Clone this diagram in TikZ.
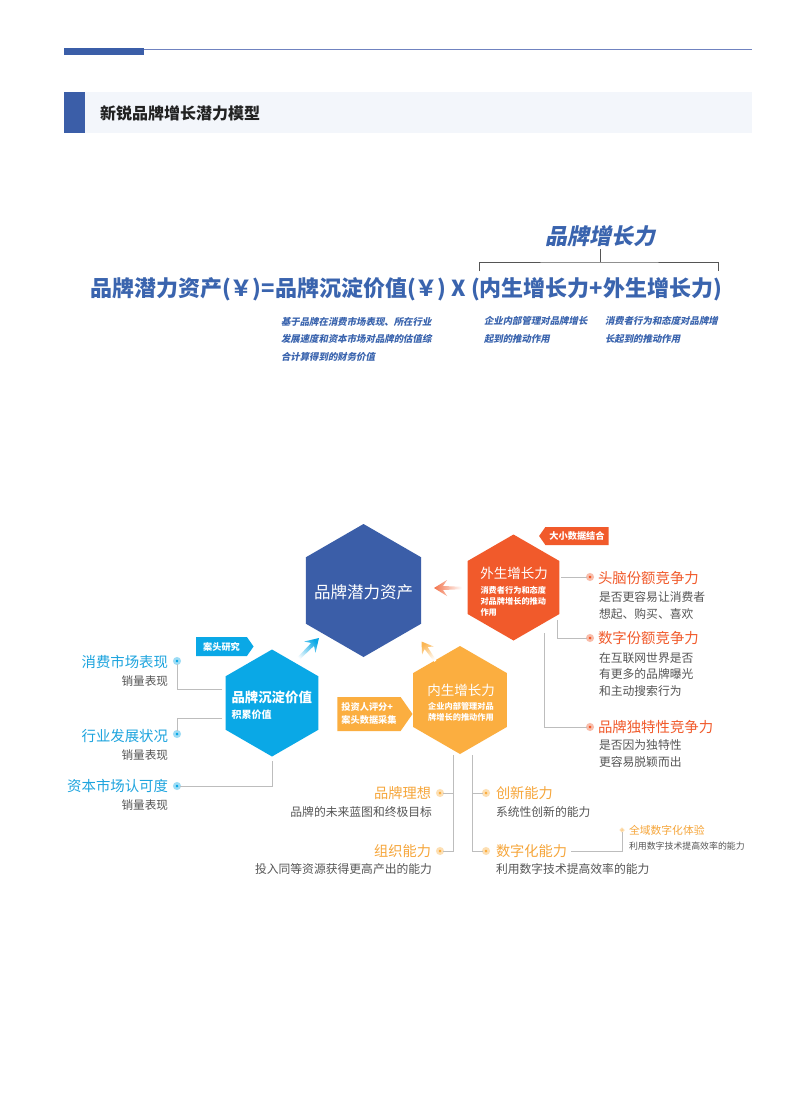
\documentclass[tikz,border=0pt]{standalone}
\usepackage{fontspec}
\setmainfont{Noto Sans CJK SC}
\newfontfamily\cjkit{Noto Sans CJK SC}[FakeSlant=0.2]
\usetikzlibrary{shapes.geometric,shapes.symbols}
\definecolor{dblue}{HTML}{3B5EA8}
\definecolor{fblue}{HTML}{3A64AE}
\definecolor{topline}{HTML}{7083C0}
\definecolor{cyanc}{HTML}{0AA8E6}
\definecolor{cyant}{HTML}{1DA4DE}
\definecolor{redo}{HTML}{F15A2B}
\definecolor{orng}{HTML}{FBAE40}
\definecolor{orngt}{HTML}{F6A63B}
\definecolor{graytext}{HTML}{555555}
\definecolor{linegray}{HTML}{BDBDBD}
\definecolor{bandbg}{HTML}{F3F6FB}
\definecolor{titletext}{HTML}{222222}
\begin{document}
\begin{tikzpicture}[x=1pt,y=-1pt,
  hex/.style={regular polygon, regular polygon sides=6, regular polygon rotate=30, inner sep=0, outer sep=0, minimum size=#1},
  txt/.style={inner sep=0, outer sep=0},
  fsz/.style={font=\fontsize{#1pt}{#1pt}\selectfont},
  conn/.style={draw=linegray, line width=0.9pt},
  dot/.style={circle, inner sep=0, outer sep=0, minimum size=5.5pt, fill=#1, draw=#1!40, line width=2.4pt},
  tagbox/.style={signal, fill=#1, text=white, inner xsep=4pt, inner ysep=2pt, signal pointer angle=110, align=left},
  desc/.style={txt, text=graytext, align=left}
]
\useasboundingbox (0,0) rectangle (805,1099);
\fill[white] (0,0) rectangle (805,1099);
% header
\draw[topline, line width=0.8pt] (64,49) -- (752,49);
\fill[dblue] (64,48.5) rectangle (144,55);
\fill[bandbg] (64,92) rectangle (752,133);
\fill[dblue] (64,92) rectangle (85,133);
\node[txt, anchor=west, fsz=16, text=titletext] (title) at (100,113) {\bfseries 新锐品牌增长潜力模型};

% formula
\node[txt, anchor=west, fsz=22, text=fblue] (formula) at (90,289) {\bfseries 品牌潜力资产(￥)=品牌沉淀价值(￥) X (内生增长力+外生增长力)};
\node[txt, fsz=22, text=fblue] (growth) at (600,236) {\cjkit\bfseries 品牌增长力};
\coordinate (brL) at (479,271);
\coordinate (brR) at (718,271);
\coordinate (brM) at (600,262);
\coordinate (brT) at (600,249);
\draw[graytext, line width=0.8pt] (brL) |- (brM) -| (brR);
\draw[graytext, line width=0.8pt] (brM) -- (brT);
\node[txt, anchor=west, text=fblue, align=left, font=\fontsize{9.4pt}{17.5pt}\selectfont] (d1) at (281,339) {\cjkit\bfseries 基于品牌在消费市场表现、所在行业\\\cjkit\bfseries 发展速度和资本市场对品牌的估值综\\\cjkit\bfseries 合计算得到的财务价值};
\node[txt, anchor=west, text=fblue, align=left, font=\fontsize{9.4pt}{17.5pt}\selectfont] (d2) at (484,330) {\cjkit\bfseries 企业内部管理对品牌增长\\\cjkit\bfseries 起到的推动作用};
\node[txt, anchor=west, text=fblue, align=left, font=\fontsize{9.4pt}{17.5pt}\selectfont] (d3) at (605,330) {\cjkit\bfseries 消费者行为和态度对品牌增\\\cjkit\bfseries 长起到的推动作用};

% hexagons
\node[hex=133, fill=dblue] (hA) at (363.5,590.5) {};
\node[hex=106, fill=redo] (hW) at (513.5,587.5) {};
\node[hex=107, fill=cyanc] (hC) at (272,703) {};
\node[hex=108, fill=orng] (hN) at (460,700) {};

\node[txt, fsz=16.5, text=white] (tA) at (363.5,592) {品牌潜力资产};
\node[txt, fsz=13.5, text=white] (tW) at (514,573) {外生增长力};
\node[txt, anchor=west, text=white, align=left, font=\fontsize{8.2pt}{11pt}\selectfont] (sW) at (480.5,601) {\bfseries 消费者行为和态度\\\bfseries 对品牌增长的推动\\\bfseries 作用};
\node[txt, anchor=west, fsz=13.4, text=white] (tC) at (231.5,697) {\bfseries 品牌沉淀价值};
\node[txt, anchor=west, fsz=10, text=white] (sC) at (231.5,715) {\bfseries 积累价值};
\node[txt, fsz=13.5, text=white] (tN) at (461,690) {内生增长力};
\node[txt, text=white, align=center, font=\fontsize{8.2pt}{11pt}\selectfont] (sN) at (461,711.5) {\bfseries 企业内部管理对品\\\bfseries 牌增长的推动作用};

% tags
\node[tagbox=redo, signal to=west, font=\fontsize{9.2pt}{11pt}\selectfont, minimum height=18pt] (tag1) at (577,536) {\bfseries 大小数据结合};
\node[tagbox=cyanc, signal to=east, font=\fontsize{9.2pt}{11pt}\selectfont, minimum height=19pt, inner xsep=7pt] (tag2) at (221.5,646.5) {\bfseries 案头研究};
\node[tagbox=orng, signal to=east, font=\fontsize{9.2pt}{13pt}\selectfont, minimum height=34pt] (tag3) at (369,714) {\bfseries 投资人评分+\\\bfseries 案头数据采集};

% feather arrows
\shade[top color=redo!85, bottom color=white, shading angle=90, shift={(434,588)}, rotate=180]
  (0,0) -- (-13,-8) -- (-9,-2) -- (-28,-1.2) -- (-28,1.2) -- (-9,2) -- (-13,8) -- cycle;
\shade[top color=cyanc, bottom color=white, shading angle=-45, shift={(319,638)}, rotate=45]
  (0,0) -- (-13,-8) -- (-9,-2) -- (-32,-1.5) -- (-32,1.5) -- (-9,2) -- (-13,8) -- cycle;
\shade[top color=orng!90, bottom color=white, shading angle=35, shift={(421.5,641.5)}, rotate=125]
  (0,0) -- (-11,-7) -- (-8,-1.8) -- (-24,-1.2) -- (-24,1.2) -- (-8,1.8) -- (-11,7) -- cycle;

% right branch (external)
\node[dot=redo] (r1) at (590,577) {};
\node[dot=redo] (r2) at (590,638) {};
\node[dot=redo] (r3) at (590,727) {};
\coordinate (cr1) at (561,577);
\coordinate (cr2) at (557,620);
\coordinate (cr3) at (544,633);
\draw[conn] (cr1) -- (r1);
\draw[conn] (cr2) |- (r2);
\draw[conn] (cr3) |- (r3);
\node[txt, anchor=west, fsz=14.4, text=redo] (rt1) at (598,578) {头脑份额竞争力};
\node[desc, anchor=west, font=\fontsize{11.8pt}{17pt}\selectfont] (rd1) at (599,605.5) {是否更容易让消费者\\想起、购买、喜欢};
\node[txt, anchor=west, fsz=14.4, text=redo] (rt2) at (598,638) {数字份额竞争力};
\node[desc, anchor=west, font=\fontsize{11.8pt}{16.5pt}\selectfont] (rd2) at (599,674.5) {在互联网世界是否\\有更多的品牌曝光\\和主动搜索行为};
\node[txt, anchor=west, fsz=14.4, text=redo] (rt3) at (598,727) {品牌独特性竞争力};
\node[desc, anchor=west, font=\fontsize{11.8pt}{17pt}\selectfont] (rd3) at (599,753.5) {是否因为独特性\\更容易脱颖而出};

% left branch (accumulated value)
\node[dot=cyanc] (l1) at (177,661) {};
\node[dot=cyanc] (l2) at (177,734) {};
\node[dot=cyanc] (l3) at (177,786) {};
\coordinate (cl1) at (222,689);
\coordinate (cl2) at (222,718);
\coordinate (cl3) at (272,761);
\draw[conn] (cl1) -| (l1);
\draw[conn] (cl2) -| (l2);
\draw[conn] (cl3) |- (l3);
\node[txt, anchor=east, fsz=14.4, text=cyant] (lt1) at (168,662) {消费市场表现};
\node[txt, anchor=east, fsz=11.6, text=graytext] (ld1) at (168,681) {销量表现};
\node[txt, anchor=east, fsz=14.4, text=cyant] (lt2) at (168,736) {行业发展状况};
\node[txt, anchor=east, fsz=11.6, text=graytext] (ld2) at (168,755) {销量表现};
\node[txt, anchor=east, fsz=14.4, text=cyant] (lt3) at (168,786) {资本市场认可度};
\node[txt, anchor=east, fsz=11.6, text=graytext] (ld3) at (168,805) {销量表现};

% bottom branch (internal)
\node[dot=orng] (b1) at (440,793) {};
\node[dot=orng] (b2) at (440,851) {};
\node[dot=orng] (b3) at (486,793) {};
\node[dot=orng] (b4) at (486,851) {};
\coordinate (cbl) at (453,755);
\coordinate (cbr) at (472,755);
\draw[conn] (cbl) |- (b1);
\draw[conn] (cbl) |- (b2);
\draw[conn] (cbr) |- (b3);
\draw[conn] (cbr) |- (b4);
\node[txt, anchor=east, fsz=14.2, text=orngt] (bt1) at (431,793) {品牌理想};
\node[txt, anchor=east, fsz=11.8, text=graytext] (bd1) at (432,812) {品牌的未来蓝图和终极目标};
\node[txt, anchor=east, fsz=14.2, text=orngt] (bt2) at (431,851) {组织能力};
\node[txt, anchor=east, fsz=11.8, text=graytext] (bd2) at (432,869) {投入同等资源获得更高产出的能力};
\node[txt, anchor=west, fsz=14.2, text=orngt] (bt3) at (496,793) {创新能力};
\node[txt, anchor=west, fsz=11.8, text=graytext] (bd3) at (496,812) {系统性创新的能力};
\node[txt, anchor=west, fsz=14.2, text=orngt] (bt4) at (496,851) {数字化能力};
\node[txt, anchor=west, fsz=11.8, text=graytext] (bd4) at (496,869) {利用数字技术提高效率的能力};
\node[circle, inner sep=0, minimum size=3.5pt, fill=orng, draw=orng!40, line width=1.4pt] (b5) at (622,830) {};
\draw[conn] (bt4.east) ++(4,0) coordinate (cb5) -| (b5);
\node[txt, anchor=west, fsz=10.8, text=orngt] (bt5) at (629,830) {全域数字化体验};
\node[txt, anchor=west, fsz=8.9, text=graytext] (bd5) at (629,846) {利用数字技术提高效率的能力};
\end{tikzpicture}
\end{document}
